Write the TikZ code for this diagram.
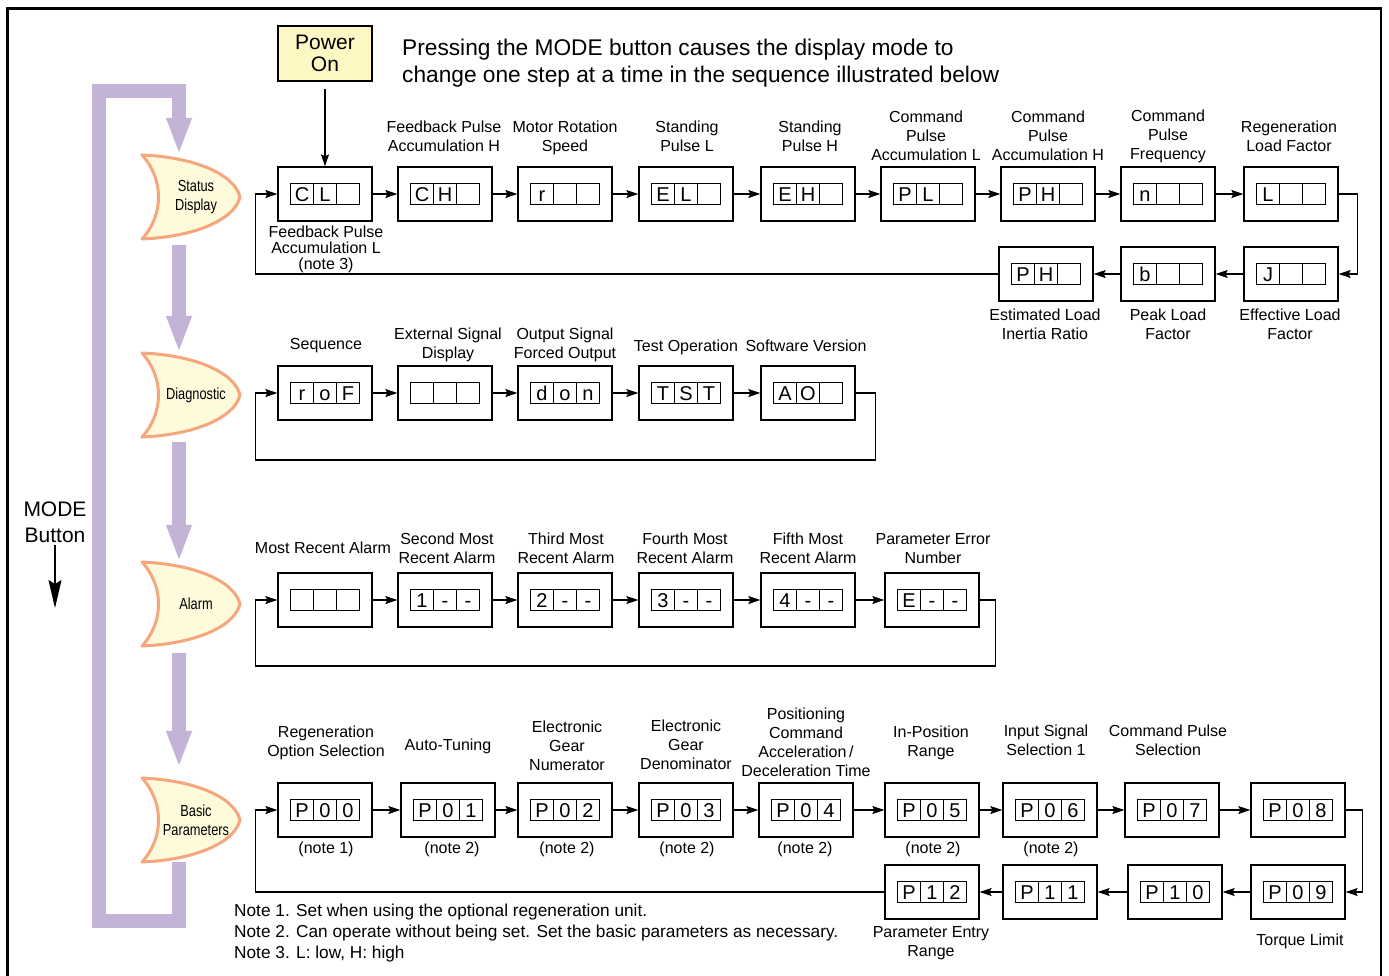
\documentclass[tikz,border=0pt]{standalone}
\usepackage{fontspec}
\setmainfont{Liberation Sans}
\newfontfamily\narrowfont{Liberation Sans}[FakeStretch=0.8]
\usepackage{xcolor}
\usetikzlibrary{arrows.meta,positioning}
\definecolor{modepurple}{HTML}{C3B3D7}
\definecolor{modeorange}{HTML}{F5A67B}
\definecolor{modefill}{HTML}{FEFBDC}
\definecolor{powerfill}{HTML}{FDF8C3}

\tikzset{
  panel/.style={draw, line width=1.3pt, minimum width=94pt, minimum height=54pt, inner sep=0pt},
  cell/.style={draw, line width=1pt, minimum width=23pt, minimum height=21pt,
    inner sep=0pt, outer sep=0pt, text height=14.5pt, text depth=0pt,
    font=\fontsize{20}{20}\selectfont},
  powerbox/.style={draw, line width=1.3pt, fill=powerfill, minimum width=94pt, minimum height=55pt,
    inner sep=0pt, align=center, font=\fontsize{21}{22}\selectfont},
  lbl/.style={align=center, anchor=north, inner sep=0pt, font=\fontsize{16}{19}\selectfont},
  lbltight/.style={lbl, font=\fontsize{16}{16}\selectfont},
  flow/.style={line width=1.3pt, -{Stealth[length=12pt,width=8pt,inset=2pt]}},
  modeshape/.style={minimum width=98pt, minimum height=84pt, inner sep=0pt, align=center,
    font=\narrowfont\fontsize{16}{19}\selectfont},
  modearrow/.style={draw=modepurple, line width=14pt, line join=miter,
    -{Triangle[length=37pt,width=23pt]}},
  crescent/.pic={
    \draw[line width=3pt, draw=modeorange, fill=modefill, line join=round]
      (0,0) .. controls (50,2) and (92,18) .. (98,42)
      .. controls (92,66) and (50,82) .. (0,84)
      .. controls (22,60) and (22,24) .. (0,0) -- cycle;
  }
}

% one display: outer box and three cells
\newcommand\dispbox[5]{%
  \node[panel] (#1) at (#2) {};
  \node[cell] (#1-b) at (#1) {#4};
  \node[cell, left=0pt of #1-b] (#1-a) {#3};
  \node[cell, right=0pt of #1-b] (#1-c) {#5};
}

\begin{document}
\begin{tikzpicture}[x=1pt, y=-1pt]
  \useasboundingbox (0,0) rectangle (1389,975);
  \draw[line width=2.6pt] (7.5,990) -- (7.5,8.5) -- (1381,8.5) -- (1381,990);

  % header
  \node[powerbox] (power) at (325,53.5) {Power\\On};
  \node[anchor=north west, align=left, inner sep=0pt, font=\fontsize{22.7}{27}\selectfont] (intro) at (402,38.5)
    {Pressing the MODE button causes the display mode to\\change one step at a time in the sequence illustrated below};

  % mode button
  \node[anchor=north, align=center, inner sep=0pt, font=\fontsize{21}{26}\selectfont] (mode) at (55,502) {MODE\\Button};
  \coordinate (modeend) at (55,608);
  \draw[line width=1.3pt, -{Stealth[length=28pt,width=13pt,inset=4pt]}] ([yshift=-2pt]mode.south) -- (modeend);

  % mode shapes
  \pic at (142,155) {crescent};
  \node[modeshape] (status) at (196,197) {Status\\Display};
  \pic at (142,353) {crescent};
  \node[modeshape] (diag) at (196,395) {Diagnostic};
  \pic at (142,562) {crescent};
  \node[modeshape] (alarm) at (196,604) {Alarm};
  \pic at (142,778) {crescent};
  \node[modeshape] (basic) at (196,820) {Basic\\Parameters};

  \draw[modearrow, shorten <=6pt] ([xshift=-17pt]status.south) -- ([xshift=-17pt]diag.north);
  \draw[modearrow, shorten <=5pt] ([xshift=-17pt]diag.south) -- ([xshift=-17pt]alarm.north);
  \draw[modearrow, shorten <=7pt, shorten >=10pt] ([xshift=-17pt]alarm.south) -- ([xshift=-17pt]basic.north);
  \draw[modearrow] ([xshift=-17pt]basic.south) -- ++(0,59) -| (99,91) -| ([xshift=-17pt]status.north);

  % status display
  \dispbox{s1}{325,194}{C}{L}{}
  \dispbox{s2}{445,194}{C}{H}{}
  \dispbox{s3}{565,194}{r}{}{}
  \dispbox{s4}{686,194}{E}{L}{}
  \dispbox{s5}{808,194}{E}{H}{}
  \dispbox{s6}{928,194}{P}{L}{}
  \dispbox{s7}{1048,194}{P}{H}{}
  \dispbox{s8}{1168,194}{n}{}{}
  \dispbox{s9}{1291,194}{L}{}{}
  \dispbox{s12}{1291,274}{J}{}{}
  \dispbox{s11}{1168,274}{b}{}{}
  \dispbox{s10}{1046,274}{P}{H}{}

  \draw[flow] ([yshift=-7pt]power.south) -- (s1.north);
  \foreach \a/\b in {s1/s2,s2/s3,s3/s4,s4/s5,s5/s6,s6/s7,s7/s8,s8/s9,s12/s11,s11/s10}
    \draw[flow] (\a) -- (\b);
  \draw[flow] (s9.east) -- ++(19,0) |- (s12.east);
  \draw[flow] (s10.west) -| ([xshift=-22pt]s1.west) -- (s1.west);

  \node[lbltight] (s1-lbl) at (326,226) {Feedback Pulse\\Accumulation L\\(note 3)};
  \node[lbl] (s2-lbl) at (444,121) {Feedback Pulse\\Accumulation H};
  \node[lbl] (s3-lbl) at (565,121) {Motor Rotation\\Speed};
  \node[lbl] (s4-lbl) at (687,121) {Standing\\Pulse L};
  \node[lbl] (s5-lbl) at (810,121) {Standing\\Pulse H};
  \node[lbl] (s6-lbl) at (926,111) {Command\\Pulse\\Accumulation L};
  \node[lbl] (s7-lbl) at (1048,111) {Command\\Pulse\\Accumulation H};
  \node[lbl] (s8-lbl) at (1168,110) {Command\\Pulse\\Frequency};
  \node[lbl] (s9-lbl) at (1289,121) {Regeneration\\Load Factor};
  \node[lbl] (s10-lbl) at (1045,309) {Estimated Load\\Inertia Ratio};
  \node[lbl] (s11-lbl) at (1168,309) {Peak Load\\Factor};
  \node[lbl] (s12-lbl) at (1290,309) {Effective Load\\Factor};

  % diagnostic
  \dispbox{d1}{325,393}{r}{o}{F}
  \dispbox{d2}{445,393}{}{}{}
  \dispbox{d3}{565,393}{d}{o}{n}
  \dispbox{d4}{686,393}{T}{S}{T}
  \dispbox{d5}{808,393}{A}{O}{}
  \foreach \a/\b in {d1/d2,d2/d3,d3/d4,d4/d5}
    \draw[flow] (\a) -- (\b);
  \draw[flow] (d5.east) -- ++(20,0) -- ++(0,67) -| ([xshift=-22pt]d1.west) -- (d1.west);

  \node[lbl] (d1-lbl) at (326,338) {Sequence};
  \node[lbl] (d2-lbl) at (448,328) {External Signal\\Display};
  \node[lbl] (d3-lbl) at (565,328) {Output Signal\\Forced Output};
  \node[lbl] (d4-lbl) at (686,340) {Test Operation};
  \node[lbl] (d5-lbl) at (806,340) {Software Version};

  % alarm
  \dispbox{a1}{325,600}{}{}{}
  \dispbox{a2}{445,600}{1}{-}{-}
  \dispbox{a3}{565,600}{2}{-}{-}
  \dispbox{a4}{686,600}{3}{-}{-}
  \dispbox{a5}{808,600}{4}{-}{-}
  \dispbox{a6}{932,600}{E}{-}{-}
  \foreach \a/\b in {a1/a2,a2/a3,a3/a4,a4/a5,a5/a6}
    \draw[flow] (\a) -- (\b);
  \draw[flow] (a6.east) -- ++(16,0) -- ++(0,66) -| ([xshift=-22pt]a1.west) -- (a1.west);

  \node[lbl] (a1-lbl) at (323,542) {Most Recent Alarm};
  \node[lbl] (a2-lbl) at (447,533) {Second Most\\Recent Alarm};
  \node[lbl] (a3-lbl) at (566,533) {Third Most\\Recent Alarm};
  \node[lbl] (a4-lbl) at (685,533) {Fourth Most\\Recent Alarm};
  \node[lbl] (a5-lbl) at (808,533) {Fifth Most\\Recent Alarm};
  \node[lbl] (a6-lbl) at (933,533) {Parameter Error\\Number};

  % basic parameters
  \dispbox{p0}{325,810}{P}{0}{0}
  \dispbox{p1}{448,810}{P}{0}{1}
  \dispbox{p2}{565,810}{P}{0}{2}
  \dispbox{p3}{686,810}{P}{0}{3}
  \dispbox{p4}{806,810}{P}{0}{4}
  \dispbox{p5}{932,810}{P}{0}{5}
  \dispbox{p6}{1050,810}{P}{0}{6}
  \dispbox{p7}{1172,810}{P}{0}{7}
  \dispbox{p8}{1298,810}{P}{0}{8}
  \dispbox{p9}{1298,892}{P}{0}{9}
  \dispbox{p10}{1175,892}{P}{1}{0}
  \dispbox{p11}{1050,892}{P}{1}{1}
  \dispbox{p12}{932,892}{P}{1}{2}
  \foreach \a/\b in {p0/p1,p1/p2,p2/p3,p3/p4,p4/p5,p5/p6,p6/p7,p7/p8,p9/p10,p10/p11,p11/p12}
    \draw[flow] (\a) -- (\b);
  \draw[flow] (p8.east) -- ++(17,0) |- (p9.east);
  \draw[flow] (p12.west) -| ([xshift=-22pt]p0.west) -- (p0.west);

  \node[lbl] (p0-lbl) at (326,726) {Regeneration\\Option Selection};
  \node[lbl] (p1-lbl) at (448,739) {Auto-Tuning};
  \node[lbl] (p2-lbl) at (567,721) {Electronic\\Gear\\Numerator};
  \node[lbl] (p3-lbl) at (686,720) {Electronic\\Gear\\Denominator};
  \node[lbl] (p4-lbl) at (806,708) {Positioning\\Command\\Acceleration\,/\\Deceleration Time};
  \node[lbl] (p5-lbl) at (931,726) {In-Position\\Range};
  \node[lbl] (p6-lbl) at (1046,725) {Input Signal\\Selection 1};
  \node[lbl] (p7-lbl) at (1168,725) {Command Pulse\\Selection};
  \node[lbl] (p0-note) at (326,842) {(note 1)};
  \foreach \n/\x in {p1/452,p2/567,p3/687,p4/805,p5/933,p6/1051}
    \node[lbl] (\n-note) at (\x,842) {(note 2)};
  \node[lbl] (p12-lbl) at (931,926) {Parameter Entry\\Range};
  \node[lbl] (p9-lbl) at (1300,934) {Torque Limit};

  % notes
  \node[anchor=north west, align=left, inner sep=0pt, font=\fontsize{17.25}{21}\selectfont] (notes) at (234,904)
    {Note 1. Set when using the optional regeneration unit.\\
     Note 2. Can operate without being set. Set the basic parameters as necessary.\\
     Note 3. L: low, H: high};
\end{tikzpicture}
\end{document}
